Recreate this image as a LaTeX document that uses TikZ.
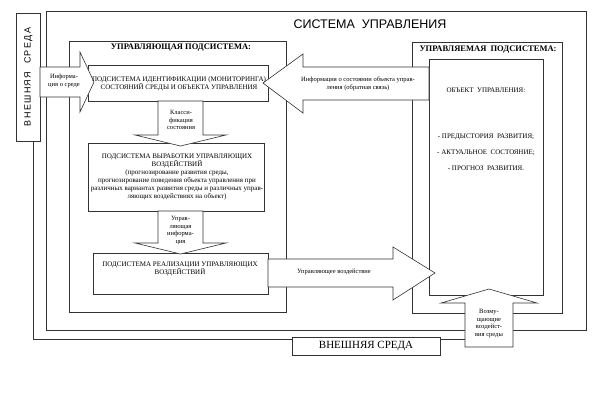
\documentclass[tikz,border=0pt]{standalone}
\usepackage{fontspec}
\setmainfont{Liberation Serif}
\newfontfamily\sansf{Liberation Sans}
\newfontfamily\sansspaced[LetterSpace=15]{Liberation Sans}
\begin{document}
\begin{tikzpicture}[x=1pt,y=-1pt,
  ln/.style={draw=black!80,line width=0.6pt},
  box/.style={ln,fill=white},
  barrow/.style={ln,fill=white,line join=miter},
  txt/.style={align=center,font=\fontsize{7}{8}\selectfont,inner sep=0pt},
  atxt/.style={align=center,font=\fontsize{6.5}{7.8}\selectfont,inner sep=0pt},
]
\useasboundingbox[fill=white] (0,0) rectangle (593,405);
% frames
\draw[ln] (46,11) rectangle (586,330);
\draw[ln] (33,141) -- (33,339) -- (292,339);
\draw[ln] (440,339) -- (465,339);
\draw[ln] (69,41) rectangle (286,312);
\draw[ln] (412,42) rectangle (562,313);
\draw[box] (16,13) rectangle (40,141);
\draw[box] (292,337) rectangle (440,355);
% boxes
\draw[box] (88,65) rectangle (268,101);
\draw[box] (88,143) rectangle (264,211);
\draw[box] (93,253) rectangle (268,294);
\draw[box] (429,59) rectangle (543,295);
% block arrows
\draw[barrow] (40,67) -- (80,67) -- (80,52) -- (94,82) -- (80,112) -- (80,97) -- (40,97) -- cycle;
\draw[barrow] (429,67) -- (303,67) -- (303,54) -- (263,83) -- (303,113) -- (303,100) -- (429,100) -- cycle;
\draw[barrow] (158,101) -- (158,135) -- (135,135) -- (180.5,146) -- (226,135) -- (203,135) -- (203,101) -- cycle;
\draw[barrow] (158,211) -- (158,243) -- (135,243) -- (180.5,254) -- (226,243) -- (203,243) -- (203,211) -- cycle;
\draw[barrow] (268,259) -- (393,259) -- (393,247) -- (435,273) -- (393,300) -- (393,287) -- (268,287) -- cycle;
\draw[barrow] (465,347) -- (465,303) -- (441,303) -- (489,289) -- (537,303) -- (513,303) -- (513,347) -- cycle;
% texts
\node[inner sep=0pt,font=\sansf\fontsize{12.5}{14}\selectfont] (title) at (370,24) {СИСТЕМА\ \ УПРАВЛЕНИЯ};
\node[inner sep=0pt,font=\bfseries\fontsize{8.5}{10}\selectfont] (h1) at (181,48) {УПРАВЛЯЮЩАЯ ПОДСИСТЕМА:};
\node[inner sep=0pt,font=\bfseries\fontsize{8.5}{10}\selectfont] (h2) at (488,50) {УПРАВЛЯЕМАЯ\ \ ПОДСИСТЕМА:};
\node[inner sep=0pt,rotate=90,font=\sansspaced\fontsize{9}{10}\selectfont] (env1) at (28.5,77) {ВНЕШНЯЯ\ \ СРЕДА};
\node[inner sep=0pt,font=\fontsize{11}{13}\selectfont] (env2) at (366,346) {ВНЕШНЯЯ СРЕДА};
\node[txt] (t1) at (179,84) {ПОДСИСТЕМА ИДЕНТИФИКАЦИИ (МОНИТОРИНГА)\\СОСТОЯНИЙ СРЕДЫ И ОБЪЕКТА УПРАВЛЕНИЯ};
\node[txt] (t2) at (177,177) {ПОДСИСТЕМА ВЫРАБОТКИ УПРАВЛЯЮЩИХ\\ВОЗДЕЙСТВИЙ\\(прогнозирование развития среды,\\прогнозирование поведения объекта управления при\\различных вариантах развития среды и различных управ-\\ляющих воздействиях на объект)};
\node[txt] (t3) at (180,269) {ПОДСИСТЕМА РЕАЛИЗАЦИИ УПРАВЛЯЮЩИХ\\ВОЗДЕЙСТВИЙ};
\node[txt] (t4) at (486,90) {ОБЪЕКТ\ \ УПРАВЛЕНИЯ:};
\node[txt,font=\fontsize{7}{16}\selectfont] (t5) at (486,152) {- ПРЕДЫСТОРИЯ\ \ РАЗВИТИЯ;\\- АКТУАЛЬНОЕ\ \ СОСТОЯНИЕ;\\- ПРОГНОЗ\ \ РАЗВИТИЯ.};
\node[atxt] (a1) at (64,81) {Информа-\\ция о среде};
\node[atxt] (a2) at (358,84) {Информация о состоянии объекта управ-\\ления (обратная связь)};
\node[atxt] (a3) at (181,120) {Класси-\\фикация\\состояния};
\node[atxt] (a4) at (180.5,230.5) {Управ-\\ляющая\\информа-\\ция};
\node[atxt] (a5) at (334,272) {Управляющее воздействие};
\node[atxt] (a6) at (489,323.5) {Возму-\\щающие\\воздейст-\\вия среды};
\end{tikzpicture}
\end{document}
